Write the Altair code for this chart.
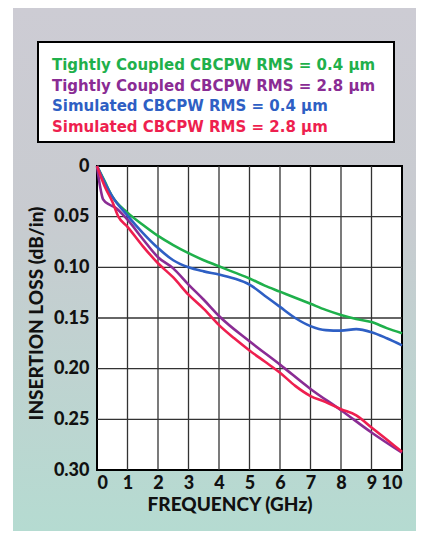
import altair as alt
import pandas as pd

# ---- data ----
freq_green = [0, 0.25, 0.5, 1, 1.5, 2, 2.5, 3, 3.5, 4, 4.5, 5, 5.5, 6, 6.5, 7, 7.5, 8, 8.5, 9, 9.5, 10]
loss_green = [0, 0.015, 0.030, 0.046, 0.058, 0.069, 0.078, 0.086, 0.093, 0.099, 0.105, 0.111, 0.118,
              0.124, 0.130, 0.136, 0.142, 0.147, 0.151, 0.154, 0.160, 0.165]

freq_purple = [0, 0.1, 0.2, 0.4, 0.6, 1, 1.5, 2, 2.5, 3, 3.5, 4, 5, 6, 7, 8, 9, 10]
loss_purple = [0, 0.020, 0.033, 0.038, 0.041, 0.053, 0.072, 0.090, 0.101, 0.117, 0.132, 0.148,
               0.173, 0.196, 0.220, 0.241, 0.263, 0.283]

freq_blue = [0, 0.25, 0.5, 1, 1.5, 2, 2.5, 3, 3.5, 4, 4.5, 5, 5.5, 6, 6.5, 7, 7.5, 8, 8.5, 9, 9.5, 10]
loss_blue = [0, 0.016, 0.030, 0.049, 0.066, 0.081, 0.093, 0.100, 0.104, 0.107, 0.111, 0.117, 0.128,
             0.139, 0.150, 0.158, 0.162, 0.1625, 0.161, 0.164, 0.170, 0.177]

freq_red = [0, 0.25, 0.5, 0.7, 1, 1.5, 2, 2.5, 3, 3.5, 4, 4.5, 5, 5.5, 6, 6.5, 7, 7.5, 8, 8.5, 9, 9.5, 10]
loss_red = [0, 0.020, 0.035, 0.050, 0.060, 0.079, 0.096, 0.110, 0.127, 0.141, 0.157, 0.170, 0.182,
            0.193, 0.204, 0.217, 0.227, 0.233, 0.240, 0.246, 0.258, 0.270, 0.282]

series_names = [
    "Tightly Coupled CBCPW RMS = 0.4 \u03bcm",
    "Tightly Coupled CBCPW RMS = 2.8 \u03bcm",
    "Simulated CBCPW RMS = 0.4 \u03bcm",
    "Simulated CBCPW RMS = 2.8 \u03bcm",
]
series_colors = ["#1fb04b", "#8a2c94", "#2e5fc4", "#ee1f4f"]

x_ticks = [0, 1, 2, 3, 4, 5, 6, 7, 8, 9, 10]
y_ticks = [0, 0.05, 0.10, 0.15, 0.20, 0.25, 0.30]
x_grid = [1, 2, 3, 4, 5, 6, 7, 8, 9]
y_grid = [0.05, 0.10, 0.15, 0.20, 0.25]

# ---- build table ----
rows = []
for name, fx, fy in zip(series_names,
                        [freq_green, freq_purple, freq_blue, freq_red],
                        [loss_green, loss_purple, loss_blue, loss_red]):
    for a, b in zip(fx, fy):
        rows.append({"series": name, "freq": a, "loss": b})
df = pd.DataFrame(rows)

W, H = 305, 304
PL, PT, PR, PB = 89, 158, 14, 61
FONT = "Lato"

xscale = alt.Scale(domain=[0, 10], nice=False, zero=False)
yscale = alt.Scale(domain=[0, 0.30], reverse=True, nice=False)

x_axis = alt.Axis(values=x_ticks, grid=False, domain=False, ticks=False, zindex=2,
                  title="FREQUENCY (GHz)", labelPadding=4, titlePadding=3, titleX=W / 2 - 20,
                  labelFontSize=18, titleFontSize=19, format="d")
y_axis = alt.Axis(values=y_ticks, grid=False, domain=False, ticks=False, zindex=2,
                  title="INSERTION LOSS (dB/in)", labelPadding=8, titlePadding=7, titleY=H / 2 - 5,
                  labelFontSize=18, titleFontSize=19,
                  labelExpr="datum.value == 0 ? '0' : format(datum.value, '.2f')")

one = pd.DataFrame({"a": [0]})

bg = alt.Chart(one).mark_rect(
    color=alt.Gradient(
        gradient="linear", x1=0, y1=0, x2=0, y2=1,
        stops=[alt.GradientStop(offset=0, color="#cdccd4"),
               alt.GradientStop(offset=0.4, color="#c8cbd0"),
               alt.GradientStop(offset=1, color="#b5dbd1")],
    )
).encode(x=alt.value(-84), x2=alt.value(W + PR), y=alt.value(-PT), y2=alt.value(H + PB))

plot_bg = alt.Chart(one).mark_rect(fill="white", stroke="black", strokeWidth=2).encode(
    x=alt.value(0), x2=alt.value(W), y=alt.value(0), y2=alt.value(H)
)

vgrid = alt.Chart(pd.DataFrame({"freq": x_grid})).mark_rule(color="#333333", strokeWidth=1.3).encode(
    x=alt.X("freq:Q", scale=xscale, axis=x_axis), y=alt.value(0), y2=alt.value(H)
)
hgrid = alt.Chart(pd.DataFrame({"loss": y_grid})).mark_rule(color="#333333", strokeWidth=1.3).encode(
    y=alt.Y("loss:Q", scale=yscale, axis=y_axis), x=alt.value(0), x2=alt.value(W)
)

lines = alt.Chart(df).mark_line(strokeWidth=2.6, interpolate="monotone").encode(
    x=alt.X("freq:Q", scale=xscale, axis=x_axis),
    y=alt.Y("loss:Q", scale=yscale, axis=y_axis),
    color=alt.Color("series:N", scale=alt.Scale(domain=series_names, range=series_colors), legend=None),
    detail="series:N",
)

legend_box = alt.Chart(one).mark_rect(fill="white", stroke="black", strokeWidth=2).encode(
    x=alt.value(-59), x2=alt.value(297), y=alt.value(-124), y2=alt.value(-24)
)

legend_texts = []
for i, (name, col) in enumerate(zip(series_names, series_colors)):
    legend_texts.append(
        alt.Chart(pd.DataFrame({"t": [name]})).mark_text(
            align="left", baseline="middle", fontSize=15, fontWeight="bold", font="DejaVu Sans",
            color=col
        ).encode(text="t:N", x=alt.value(-45), y=alt.value(-101 + i * 20.6))
    )

chart = alt.layer(bg, plot_bg, vgrid, hgrid, lines, legend_box, *legend_texts).properties(
    width=W, height=H,
    autosize=alt.AutoSizeParams(type="none"),
    padding={"left": PL, "top": PT, "right": PR, "bottom": PB},
).configure(background="white", font=FONT).configure_axis(
    labelFont=FONT, titleFont=FONT, labelFontWeight=900, titleFontWeight=900,
    labelColor="#111111", titleColor="#111111",
).configure_view(stroke=None)

chart.save("out.html", embed_options={"renderer": "svg", "actions": False})
